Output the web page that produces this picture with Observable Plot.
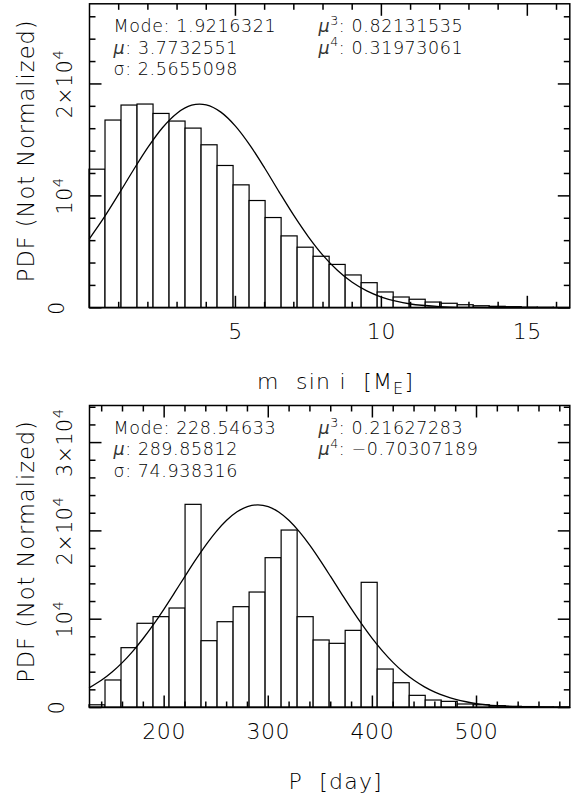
<!DOCTYPE html>
<html>
<head>
<meta charset="utf-8">
<script src="https://cdn.jsdelivr.net/npm/d3@7"></script>
<script src="https://cdn.jsdelivr.net/npm/@observablehq/plot@0.6"></script>
<style>
  html, body { margin: 0; padding: 0; background: #fff; }
  #chart svg { display: block; }
</style>
</head>
<body>
<div id="chart"></div>
<script>
// ---------- top panel: m sin i ----------
const mBinStart = 0;
const mBinWidth = 0.5485;
const mCounts = [12340, 16730, 18070, 18160, 17320, 16640, 16010, 14520, 12670, 10940,
                 9540, 8020, 6380, 5370, 4560, 3830, 2890, 2200, 1370, 920,
                 720, 470, 360, 230, 140, 90, 60, 30, 20, 10];
const mCurveX = [0, 0.5, 1, 1.5, 2, 2.5, 3, 3.5, 3.77, 4, 4.5, 5, 5.5, 6, 6.5, 7, 7.5, 8, 8.5, 9, 9.5, 10, 10.5, 11, 12, 13, 14, 15, 16.45];
const mCurveY = [6180, 8070, 10150, 12290, 14330, 16090, 17390, 18100, 18200, 18130, 17480, 16230, 14510, 12490, 10340, 8250, 6340, 4680, 3330, 2280, 1510, 960, 590, 340, 110, 30, 6, 1, 0];
const mXDomain = [0, 16.455];
const mYDomain = [0, 27160];
const mXMajor = [5, 10, 15];
const mXMinor = [1, 2, 3, 4, 6, 7, 8, 9, 11, 12, 13, 14, 16];
const mYMajor = [0, 10000, 20000];
const mYMinor = [2000, 4000, 6000, 8000, 12000, 14000, 16000, 18000, 22000, 24000, 26000];
const mYLabels = ["0", "10⁴", "2×10⁴"];
const mStatsLeft = ["Mode: 1.9216321", "μ: 3.7732551", "σ: 2.5655098"];
const mStatsRight = ["μ³: 0.82131535", "μ⁴: 0.31973061"];
const mXTitle = ["m  sin i  [M", "E", "]"];

// ---------- bottom panel: P ----------
const pBinStart = 128.3;
const pBinWidth = 15.377;
const pCounts = [250, 3060, 6720, 9480, 10230, 11210, 22950, 7510, 9660, 11360,
                 13020, 16910, 20040, 10230, 7590, 7210, 8680, 14120, 4300, 2750,
                 1320, 790, 640, 340, 260, 150, 80, 50, 30, 20];
const pCurveX = [128.3, 140, 150, 160, 170, 180, 190, 200, 210, 220, 230, 240, 250, 260, 270, 280, 290, 300, 310, 320, 330, 340, 350, 360, 370, 380, 390, 400, 410, 420, 430, 440, 450, 460, 470, 480, 490, 500, 520, 540, 560, 580, 589.6];
const pCurveY = [2250, 3110, 4020, 5110, 6390, 7840, 9440, 11180, 13010, 14860, 16680, 18390, 19920, 21200, 22160, 22750, 22950, 22740, 22140, 21170, 19880, 18350, 16630, 14810, 12960, 11130, 9400, 7790, 6350, 5080, 3990, 3080, 2340, 1740, 1280, 920, 650, 450, 205, 87, 35, 13, 8];
const pXDomain = [128.3, 589.6];
const pYDomain = [0, 34200];
const pXMajor = [200, 300, 400, 500];
const pXMinor = [140, 160, 180, 220, 240, 260, 280, 320, 340, 360, 380, 420, 440, 460, 480, 520, 540, 560, 580];
const pYMajor = [0, 10000, 20000, 30000];
const pYMinor = [2000, 4000, 6000, 8000, 12000, 14000, 16000, 18000, 22000, 24000, 26000, 28000, 32000, 34000];
const pYLabels = ["0", "10⁴", "2×10⁴", "3×10⁴"];
const pStatsLeft = ["Mode: 228.54633", "μ: 289.85812", "σ: 74.938316"];
const pStatsRight = ["μ³: 0.21627283", "μ⁴: −0.70307189"];
const pXTitle = ["P  [day", "", "]"];

const yTitle = "PDF (Not Normalized)";
const FONT = "'DejaVu Sans', sans-serif";
const SUP = {"³": "3", "⁴": "4"};

// rebuild a text element: italic mu, raised superscripts
function richText(el, fontSize) {
  const t = el.textContent;
  const sel = d3.select(el);
  sel.text(null);
  const k = 0.42 * fontSize;
  let buf = "";
  let pendingDown = 0;
  const flush = () => {
    if (!buf) return;
    const ts = sel.append("tspan").text(buf);
    if (pendingDown) { ts.attr("dy", pendingDown); pendingDown = 0; }
    buf = "";
  };
  for (const ch of t) {
    if (ch === "μ") {
      flush();
      const ts = sel.append("tspan").attr("font-style", "italic").attr("font-weight", 200).attr("fill", "#333").text("μ");
      if (pendingDown) { ts.attr("dy", pendingDown); pendingDown = 0; }
    } else if (SUP[ch]) {
      flush();
      sel.append("tspan").attr("dy", -k).attr("font-size", 0.72 * fontSize).text(SUP[ch]);
      pendingDown = k;
    } else {
      buf += ch;
    }
  }
  flush();
}

function panel(o) {
  const bins = o.counts.map((c, i) => ({x1: o.start + i * o.width, x2: o.start + (i + 1) * o.width, y: c}));
  const curve = o.curveX.map((x, i) => ({x, y: o.curveY[i]}));
  const ph = o.height - o.marginTop - o.marginBottom;
  const pw = 581 - 89 - 11.7;
  const ky = (o.yDomain[1] - o.yDomain[0]) / ph;
  const kx = (o.xDomain[1] - o.xDomain[0]) / pw;
  const [xa, xb] = o.xDomain, [ya, yb] = o.yDomain;
  const lineStep = 21.3;
  const statMarks = [];
  o.left.forEach((s, i) => statMarks.push(Plot.text([s], {frameAnchor: "top-left", dx: 24, dy: 28.6 + i * lineStep, lineAnchor: "bottom", textAnchor: "start", fontSize: 17.5})));
  o.right.forEach((s, i) => statMarks.push(Plot.text([s], {frameAnchor: "top-left", dx: 229, dy: 28.6 + i * lineStep, lineAnchor: "bottom", textAnchor: "start", fontSize: 17.5})));
  const tick = {stroke: "black", strokeWidth: 1.5};
  const xTicks = (vals, len) => [
    Plot.link(vals, {x1: d => d, x2: d => d, y1: () => ya, y2: () => ya + len * ky, ...tick}),
    Plot.link(vals, {x1: d => d, x2: d => d, y1: () => yb, y2: () => yb - len * ky, ...tick})
  ];
  const yTicks = (vals, len) => [
    Plot.link(vals, {y1: d => d, y2: d => d, x1: () => xa, x2: () => xa + len * kx, ...tick}),
    Plot.link(vals, {y1: d => d, y2: d => d, x1: () => xb, x2: () => xb - len * kx, ...tick})
  ];
  const svg = Plot.plot({
    width: 581,
    height: o.height,
    marginLeft: 89,
    marginRight: 11.7,
    marginTop: o.marginTop,
    marginBottom: o.marginBottom,
    style: {fontFamily: FONT, fontWeight: 300, color: "black", background: "white", letterSpacing: "0.6px"},
    x: {domain: o.xDomain, axis: null},
    y: {domain: o.yDomain, axis: null},
    marks: [
      Plot.rectY(bins, {x1: "x1", x2: "x2", y: "y", fill: "white", stroke: "black", strokeWidth: 1.2}),
      Plot.line(curve, {x: "x", y: "y", curve: "monotone-x", stroke: "black", strokeWidth: 1.3}),
      ...xTicks(o.xMinor, 6),
      ...xTicks(o.xMajor, 12),
      ...yTicks(o.yMinor, 6),
      ...yTicks(o.yMajor, 12),
      Plot.frame({stroke: "black", strokeWidth: 1.5}),
      Plot.text(o.xMajor, {x: d => d, frameAnchor: "bottom", dy: 16, lineAnchor: "top", fontSize: 22}),
      Plot.text(o.yMajor.slice(0, 1), {y: d => d, text: () => o.yLabels[0], frameAnchor: "left", dx: -25.7, rotate: -90, textAnchor: "middle", lineAnchor: "bottom", fontSize: 20.5}),
      Plot.text(o.yMajor.slice(1), {y: d => d, text: (d, i) => o.yLabels[i + 1], frameAnchor: "left", dx: -17.5, rotate: -90, textAnchor: "middle", lineAnchor: "bottom", fontSize: 20.5}),
      Plot.text([yTitle], {frameAnchor: "left", dx: -55.5, dy: -5, rotate: -90, textAnchor: "middle", lineAnchor: "bottom", fontSize: 22.5}),
      Plot.text([o.xTitle.join("")], {frameAnchor: "bottom", dx: 6, dy: 81, lineAnchor: "bottom", fontSize: 22}),
      ...statMarks
    ]
  });

  const xTitleText = o.xTitle.join("");
  d3.select(svg).selectAll("text").each(function () {
    const t = this.textContent;
    if (t === yTitle) {
      d3.select(this).style("letter-spacing", "1px");
    } else if (t === xTitleText) {
      const el = d3.select(this);
      el.text(null).attr("xml:space", "preserve").style("white-space", "pre").style("letter-spacing", "1.2px");
      el.append("tspan").text(o.xTitle[0]);
      if (o.xTitle[1]) {
        el.append("tspan").attr("dy", 5).attr("font-size", 16).text(o.xTitle[1]);
        el.append("tspan").attr("dy", -5).text(o.xTitle[2]);
      } else {
        el.append("tspan").text(o.xTitle[2]);
      }
    } else if (o.yLabels.includes(t)) {
      richText(this, 20.5);
    } else if (t.startsWith("μ")) {
      richText(this, 17.5);
    }
  });
  return svg;
}

const chart = document.getElementById("chart");
chart.append(panel({
  counts: mCounts, start: mBinStart, width: mBinWidth, curveX: mCurveX, curveY: mCurveY,
  xDomain: mXDomain, yDomain: mYDomain, xMajor: mXMajor, xMinor: mXMinor, yMajor: mYMajor, yMinor: mYMinor,
  yLabels: mYLabels, left: mStatsLeft, right: mStatsRight, xTitle: mXTitle,
  height: 401, marginTop: 3.3, marginBottom: 93.7
}));
chart.append(panel({
  counts: pCounts, start: pBinStart, width: pBinWidth, curveX: pCurveX, curveY: pCurveY,
  xDomain: pXDomain, yDomain: pYDomain, xMajor: pXMajor, xMinor: pXMinor, yMajor: pYMajor, yMinor: pYMinor,
  yLabels: pYLabels, left: pStatsLeft, right: pStatsRight, xTitle: pXTitle,
  height: 400, marginTop: 4, marginBottom: 94
}));
</script>
</body>
</html>
